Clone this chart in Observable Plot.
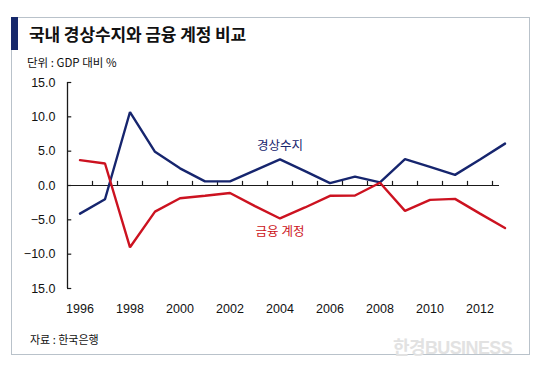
<!DOCTYPE html>
<html><head><meta charset="utf-8">
<script src="https://cdn.jsdelivr.net/npm/d3@7"></script>
<script src="https://cdn.jsdelivr.net/npm/@observablehq/plot@0.6"></script>
<style>
body{margin:0;background:#fff;}
#wrap{position:relative;width:540px;height:376px;overflow:hidden;font-family:"Noto Sans CJK KR","Noto Sans",sans-serif;color:#111;}
#wrap svg{position:absolute;left:0;top:0;}
#frame{position:absolute;left:11px;top:17px;width:519px;height:338px;border:1px solid #b9c2ca;box-sizing:border-box;}
#bar{position:absolute;left:11px;top:17px;width:7px;height:33px;background:#16286b;}
#title{position:absolute;left:29px;top:24px;font-size:17px;font-weight:bold;line-height:19px;letter-spacing:-0.1px;white-space:nowrap;}
#sub{position:absolute;left:27px;top:56px;font-size:11.5px;line-height:13px;white-space:nowrap;}
#src{position:absolute;left:30px;top:333px;font-size:11px;line-height:13px;white-space:nowrap;}
#wm{position:absolute;left:393px;top:339px;font-size:18px;font-weight:bold;line-height:19px;color:#e2e2e2;letter-spacing:-0.6px;white-space:nowrap;font-family:"Liberation Sans","Noto Sans CJK KR",sans-serif;}
</style>
</head><body>
<div id="wrap">
<div id="frame"></div>
<div id="bar"></div>
<div id="title">국내 경상수지와 금융 계정 비교</div>
<div id="sub">단위 : GDP 대비 %</div>
<div id="src">자료 : 한국은행</div>
<div id="wm">한경BUSINESS</div>
</div>
<script>
const years = [1996,1997,1998,1999,2000,2001,2002,2003,2004,2005,2006,2007,2008,2009,2010,2011,2012,2013];
const currentAccount = [-4.1,-2.0,10.7,4.9,2.5,0.6,0.6,2.2,3.8,2.1,0.35,1.3,0.45,3.85,2.7,1.55,3.8,6.1];
const financialAccount = [3.7,3.2,-9.0,-3.8,-1.85,-1.5,-1.1,-3.0,-4.8,-3.2,-1.5,-1.45,0.4,-3.7,-2.1,-1.95,-4.1,-6.2];
const seriesNames = ["경상수지","금융 계정"];
const seriesColors = ["#16256e","#cc1220"];
const yTickValues = [15,10,5,0,-5,-10,-15];
const yTickLabels = ["15.0","10.0","5.0","0.0","−5.0","−10.0","15.0"];
const xLabelYears = [1996,1998,2000,2002,2004,2006,2008,2010,2012];
const labelYear = 2004;

const xDomain = [1995.5, 2012.78];
const yDomain = [-15, 15];
const tickYears = years.slice(0, -1).map(y => y + 0.5);

const rows = [];
years.forEach((y, i) => {
  rows.push({year: y, value: currentAccount[i], series: seriesNames[0]});
  rows.push({year: y, value: financialAccount[i], series: seriesNames[1]});
});
const li = years.indexOf(labelYear);
const labels = [
  {year: labelYear, value: currentAccount[li], series: seriesNames[0]},
  {year: labelYear, value: financialAccount[li], series: seriesNames[1]}
];
const numFont = "Liberation Sans, Arial, sans-serif";

const chart = Plot.plot({
  width: 540, height: 376,
  marginLeft: 67, marginRight: 41, marginTop: 82, marginBottom: 88,
  style: {background: "transparent", overflow: "visible"},
  x: {domain: xDomain, axis: null, label: null},
  y: {domain: yDomain, axis: null, label: null},
  color: {domain: seriesNames, range: seriesColors},
  marks: [
    Plot.ruleX([xDomain[0]], {y1: yDomain[0], y2: yDomain[1], stroke: "#1a1a1a", strokeWidth: 1.3}),
    Plot.ruleY(yTickValues, {y: d => d, x1: xDomain[0], x2: xDomain[0] + 0.17, stroke: "#1a1a1a", strokeWidth: 1.2}),
    Plot.ruleY([0], {x1: xDomain[0], x2: xDomain[1], stroke: "#1a1a1a", strokeWidth: 1.2}),
    Plot.ruleX(tickYears, {x: d => d, y1: 0, y2: 0.6, stroke: "#1a1a1a", strokeWidth: 1.2}),
    Plot.axisY(yTickValues, {label: null, tickSize: 0, tickPadding: 12, fontSize: 12.5, fontFamily: numFont,
      tickFormat: (d) => yTickLabels[yTickValues.indexOf(d)], fill: "#111", style: "letter-spacing:-0.7px"}),
    Plot.axisX(xLabelYears, {label: null, tickSize: 0, tickPadding: 16, fontSize: 12.5, fontFamily: numFont,
      tickFormat: d => String(d), fill: "#111", style: "letter-spacing:-0.7px"}),
    Plot.line(rows, {x: "year", y: "value", z: "series", stroke: "series", strokeWidth: 2.4, strokeLinejoin: "miter"}),
    Plot.text(labels.slice(0,1), {x: "year", y: "value", text: "series", fill: "series", dy: -13, fontSize: 12.5, fontFamily: "Noto Sans CJK KR"}),
    Plot.text(labels.slice(1), {x: "year", y: "value", text: "series", fill: "series", dy: 14, fontSize: 12.5, fontFamily: "Noto Sans CJK KR"})
  ]
});
document.getElementById("wrap").prepend(chart);
</script>
</body></html>
